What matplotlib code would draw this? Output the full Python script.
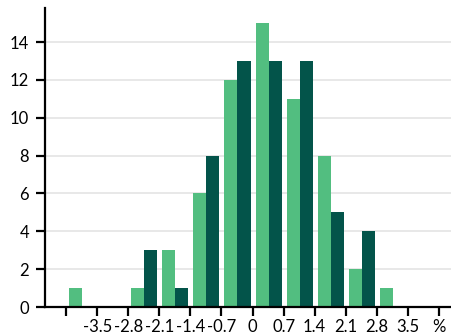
import numpy as np
import matplotlib.pyplot as plt

plt.rcParams['font.family'] = ['Lato', 'DejaVu Sans']

edge_labels = ['', '-3.5', '-2.8', '-2.1', '-1.4', '-0.7', '0', '0.7', '1.4', '2.1', '2.8', '3.5', '%']
light = [1, 0, 1, 3, 6, 12, 15, 11, 8, 2, 1, 0]
dark = [0, 0, 3, 1, 8, 13, 13, 13, 5, 4, 0, 0]

fig = plt.figure(figsize=(4.52, 3.36), dpi=100)
ax = fig.add_axes([0.0996, 0.0863, 0.9004, 0.89])

x = np.arange(len(light))
w = 13 / 31
ax.bar(x + 3 / 31, light, width=w, align='edge', color='#52BE80', zorder=2)
ax.bar(x + 16 / 31, dark, width=w, align='edge', color='#03544A', zorder=2)

ax.set_xlim(-21 / 31, 12.42)
ax.set_ylim(0, 15.8)
ax.set_xticks(np.arange(len(edge_labels)))
ax.set_xticklabels(edge_labels)
ax.set_yticks(np.arange(0, 15, 2))

ax.grid(axis='y', color='#e6e6e6', lw=1.3, zorder=0)
ax.set_axisbelow(True)
for s in ['top', 'right']:
    ax.spines[s].set_visible(False)
for s in ['left', 'bottom']:
    ax.spines[s].set_linewidth(1.6)
    ax.spines[s].set_color('black')
ax.tick_params(length=6.5, width=1.6, labelsize=12, color='black')
ax.tick_params(axis='y', pad=5)
ax.tick_params(axis='x', pad=2)

fig.savefig('out.png', dpi=100)
